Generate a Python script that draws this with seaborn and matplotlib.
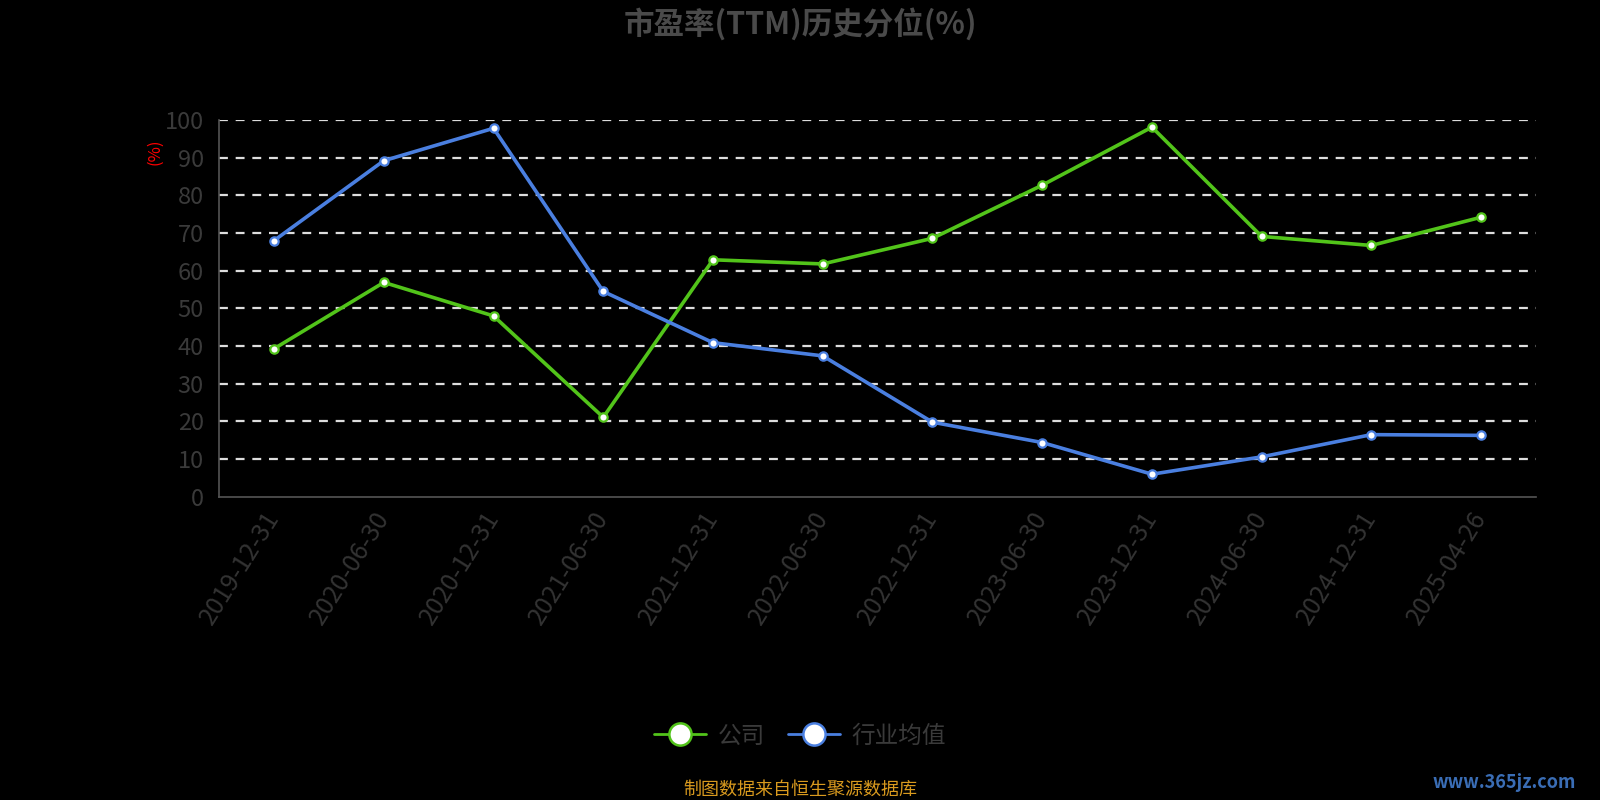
import pandas as pd
import seaborn as sns
import matplotlib.pyplot as plt
from matplotlib.lines import Line2D

dates = ['2019-12-31', '2020-06-30', '2020-12-31', '2021-06-30', '2021-12-31', '2022-06-30',
         '2022-12-31', '2023-06-30', '2023-12-31', '2024-06-30', '2024-12-31', '2025-04-26']
company = [39.3, 56.9, 48.0, 21.1, 62.9, 61.8, 68.6, 82.7, 98.1, 69.1, 66.7, 74.2]
industry = [68.0, 89.2, 97.8, 54.5, 40.9, 37.4, 19.8, 14.4, 6.0, 10.6, 16.5, 16.3]
series_names = ['公司', '行业均值']
colors = ['#52C41A', '#4A7FE0']

df = pd.DataFrame({
    'date': dates * 2,
    'value': company + industry,
    'series': [series_names[0]] * len(dates) + [series_names[1]] * len(dates),
})
df['pos'] = list(range(len(dates))) * 2

sns.set_style('dark', {'axes.facecolor': 'black', 'figure.facecolor': 'black'})
plt.rcParams['font.family'] = ['Noto Sans CJK SC', 'DejaVu Sans']

fig = plt.figure(figsize=(16, 8), dpi=100, facecolor='black')
ax = fig.add_axes([0.137, 0.379, 0.823, 0.471])
ax.set_facecolor('black')

for y in range(10, 101, 10):
    ax.axhline(y, color='#dddddd', lw=1.6, ls=(0, (4, 3.5)), zorder=1)

sns.lineplot(data=df, x='pos', y='value', hue='series', palette=colors,
             marker='o', markersize=6, markerfacecolor='white', markeredgewidth=1.6,
             linewidth=2.6, legend=False, ax=ax, zorder=3)
for line, c in zip(ax.get_lines()[-2:], colors):
    line.set_markeredgecolor(c)

ax.set_xlim(-0.5, len(dates) - 0.5)
ax.set_ylim(0, 100)
ax.set_yticks(range(0, 101, 10))
ax.set_yticklabels([str(v) for v in range(0, 101, 10)], fontsize=17, color='#3a3a3a')
ax.set_xticks(range(len(dates)))
ax.set_xticklabels(dates, rotation=58, ha='right', va='center', rotation_mode='anchor',
                   fontsize=18, color='#333333')
ax.set_xticks([i - 0.5 for i in range(len(dates) + 1)], minor=True)
ax.tick_params(axis='x', which='major', length=0, pad=12)
ax.tick_params(axis='x', which='minor', length=6, color='#555555', width=1.2)
ax.tick_params(axis='y', length=5, color='#555555', width=1.2, pad=6)
for s in ['top', 'right']:
    ax.spines[s].set_visible(False)
for s in ['left', 'bottom']:
    ax.spines[s].set_color('#555555')
    ax.spines[s].set_linewidth(1.2)
ax.set_xlabel('')
ax.set_ylabel('')
ax.grid(False)

fig.text(0.097, 0.81, '(%)', color='red', fontsize=12, rotation=90, ha='center', va='center')
fig.text(0.5, 0.97, '市盈率(TTM)历史分位(%)', color='#4a4a4a', fontsize=22,
         fontweight='bold', ha='center', va='center')

handles = [Line2D([0], [0], color=c, lw=2, marker='o', markersize=16,
                  markerfacecolor='white', markeredgecolor=c, markeredgewidth=1.8)
           for c in colors]
leg = fig.legend(handles, series_names, loc='center', bbox_to_anchor=(0.5, 0.08),
                 ncol=2, frameon=False, fontsize=17, handlelength=2.2,
                 columnspacing=1.0, handletextpad=0.5)
for t in leg.get_texts():
    t.set_color('#3a3a3a')

fig.text(0.5, 0.013, '制图数据来自恒生聚源数据库', color='#D99A1E', fontsize=13,
         ha='center', va='center')
fig.text(0.985, 0.022, 'www.365jz.com', color='#3a6db5', fontsize=13, fontweight='bold',
         ha='right', va='center')

fig.savefig('out.png', dpi=100, facecolor='black')
